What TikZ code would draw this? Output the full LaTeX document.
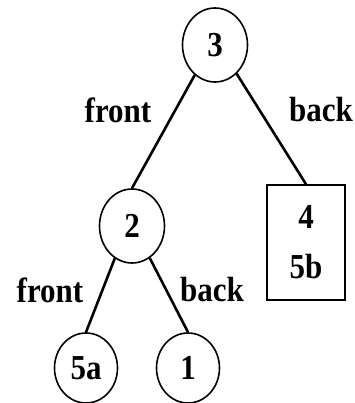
\documentclass[tikz,border=0pt]{standalone}
\usepackage{fontspec}
\setmainfont{Liberation Serif}
\usetikzlibrary{shapes.geometric}
\newcommand\tx[1]{\scalebox{1}[1.13]{#1}}
\begin{document}
\begin{tikzpicture}[x=1pt,y=-1pt,
  every node/.style={font=\fontsize{31}{50}\selectfont\bfseries},
  tnode/.style={draw,ellipse,line width=1.6pt,minimum width=65pt,minimum height=74pt,inner sep=0pt},
  leaf/.style={draw,ellipse,line width=1.6pt,minimum width=63pt,minimum height=70pt,inner sep=0pt},
  sbox/.style={draw,rectangle,line width=1.6pt,minimum width=78pt,minimum height=115pt,align=center,inner sep=0pt},
  edge/.style={line width=2.6pt},
  lbl/.style={inner sep=0pt}]
\useasboundingbox (0,0) rectangle (354,403);
\node[tnode] (n3) at (215,45) {\tx{3}};
\node[tnode] (n2) at (132,226) {\tx{2}};
\node[leaf] (n5a) at (86,368) {\tx{5a}};
\node[leaf] (n1) at (188,368) {\tx{1}};
\node[sbox] (b) at (306,242.5) {\tx{4}\\\tx{5b}};
\draw[edge] (n3.236) -- (n2.north);
\draw[edge] (n3.307) -- (b.north);
\draw[edge] (n2.242) -- (n5a.north);
\draw[edge] (n2.299) -- (n1.north);
\node[lbl] (f1) at (118,110) {\tx{front}};
\node[lbl] (k1) at (321,110) {\tx{back}};
\node[lbl] (f2) at (50,290) {\tx{front}};
\node[lbl] (k2) at (212,290) {\tx{back}};
\end{tikzpicture}
\end{document}
